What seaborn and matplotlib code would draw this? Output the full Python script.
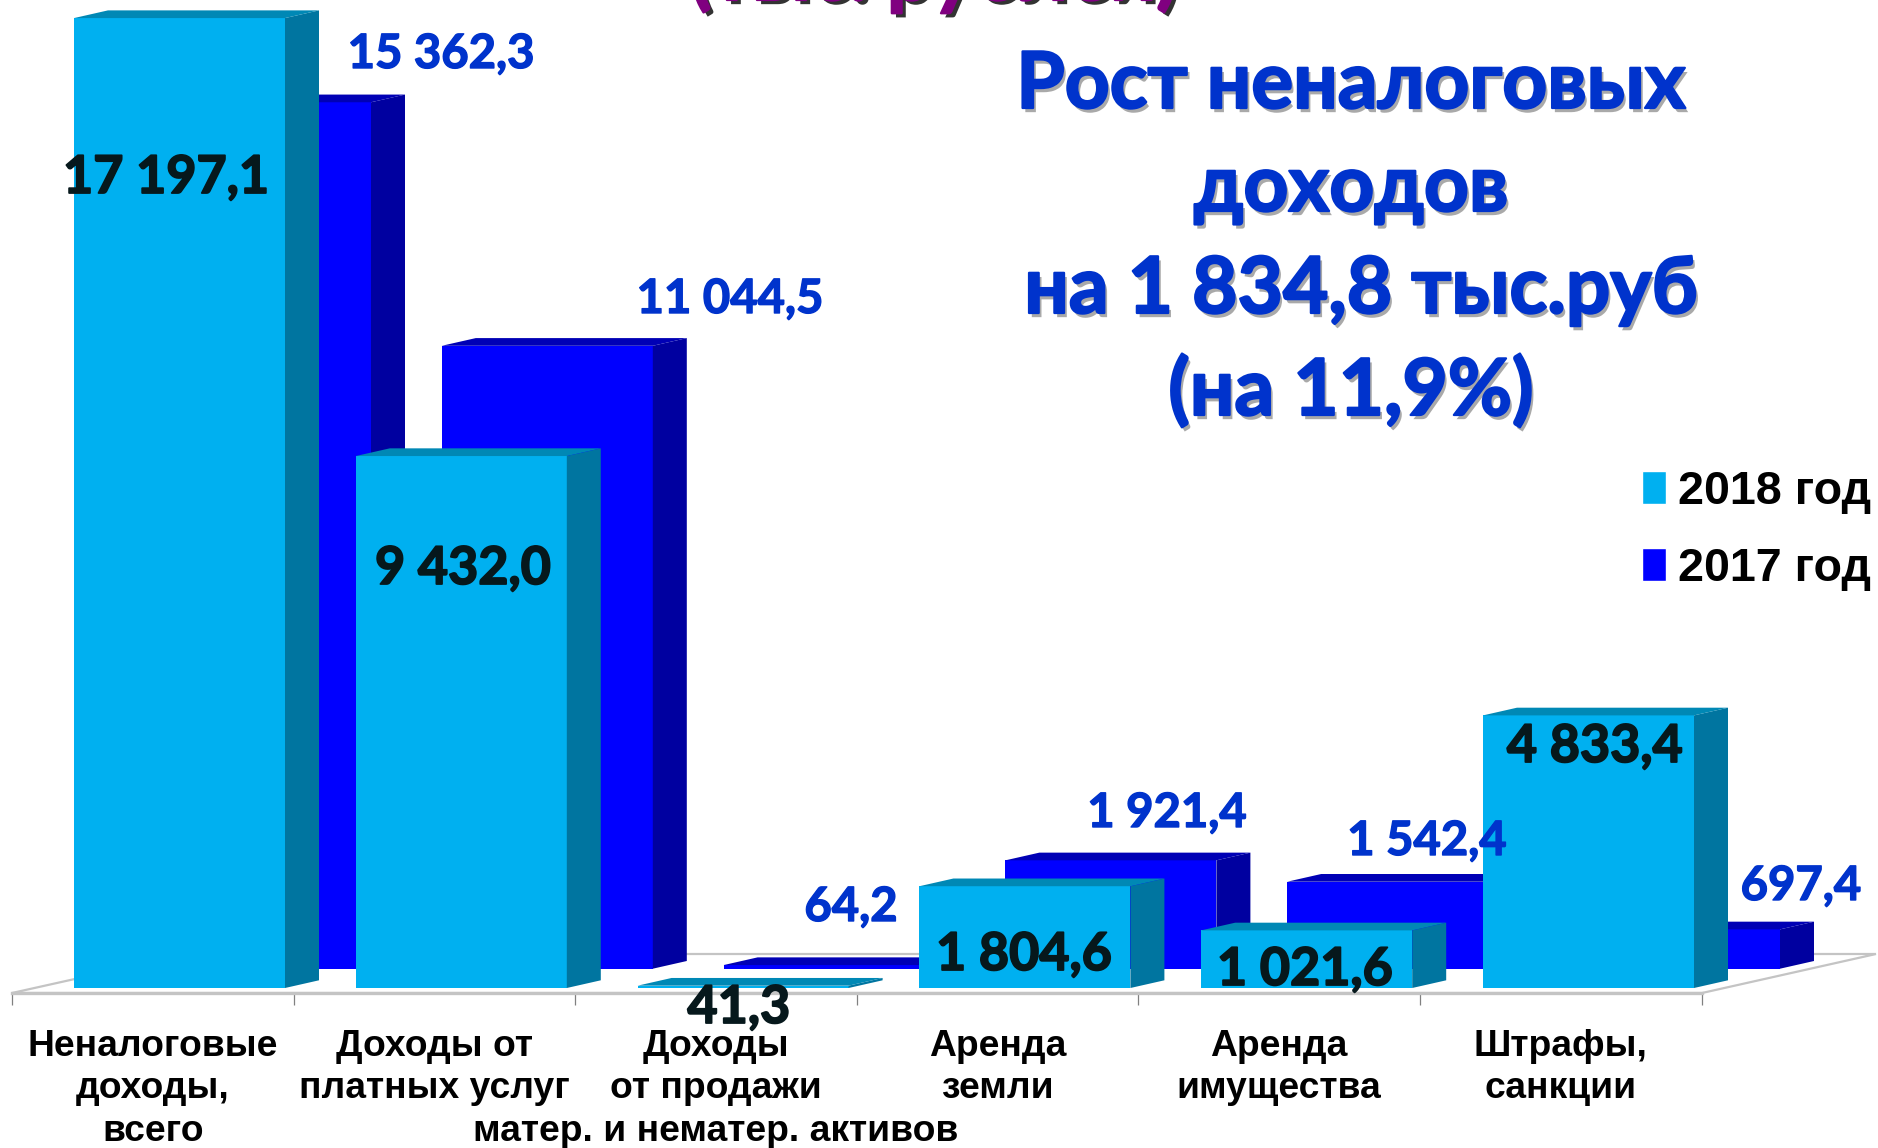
import matplotlib
matplotlib.use("Agg")
import matplotlib.pyplot as plt
import matplotlib.patheffects as pe
from matplotlib.patches import Polygon, Patch
import pandas as pd
import seaborn as sns

categories = ["Неналоговые\nдоходы,\nвсего", "Доходы от\nплатных услуг",
              "Доходы\nот продажи\nматер. и нематер. активов",
              "Аренда\nземли", "Аренда\nимущества", "Штрафы,\nсанкции"]
values_2018 = [17197.1, 9432.0, 41.3, 1804.6, 1021.6, 4833.4]
values_2017 = [15362.3, 11044.5, 64.2, 1921.4, 1542.4, 697.4]
title_lines = ["Рост неналоговых", "доходов", "на 1 834,8 тыс.руб", "(на 11,9%)"]
legend_labels = ["2018 год", "2017 год"]
top_text = "(тыс. рублей)"

W, H = 1878, 1148
DPI = 100
SP = 281.8      # px per category
K = 0.0564      # px per value unit
X0_F, Y0_F = 179.5, 988.0
X0_B, Y0_B = 265.5, 968.7
FLOOR_Y = 993.0
DX, DY = 34.0, 7.7

C18, C18S, C18T = "#00B0F0", "#0075A0", "#0088B5"
C17, C17S, C17T = "#0000FF", "#0000A0", "#0000B5"
BLUE_TXT = "#0033CC"

sns.set_theme(style="white")
plt.rcParams["font.family"] = ["Lato", "Open Sans", "DejaVu Sans"]
LAB = ["Liberation Sans", "DejaVu Sans"]

fig = plt.figure(figsize=(W / DPI, H / DPI), dpi=DPI, facecolor="white")
rect = [0, (H - FLOOR_Y) / H, 1, FLOOR_Y / H]
ax_b = fig.add_axes(rect, zorder=1)
ax_f = fig.add_axes(rect, zorder=2)


def setup(ax, x0, y0):
    ax.set_xlim(-x0 / SP, (W - x0) / SP)
    ax.set_ylim((y0 - FLOOR_Y) / K, y0 / K)
    ax.patch.set_visible(False)


def draw_series(ax, vals, c, cs, ct, x0, y0, name):
    df = pd.DataFrame({"cat": categories, name: vals})
    sns.barplot(data=df, x="cat", y=name, color=c, saturation=1, width=211 / SP,
                ax=ax, order=categories, errorbar=None, zorder=3, linewidth=0, edgecolor="none")
    setup(ax, x0, y0)
    dx, dy = DX / SP, DY / K
    for bar in list(ax.patches):
        l, w, h = bar.get_x(), bar.get_width(), bar.get_height()
        r = l + w
        ax.add_patch(Polygon([(r, 0), (r + dx, dy), (r + dx, h + dy), (r, h)],
                             fc=cs, ec="none", zorder=3))
        ax.add_patch(Polygon([(l, h), (l + dx, h + dy), (r + dx, h + dy), (r, h)],
                             fc=ct, ec="none", zorder=3))
    ax.set_xlabel("")
    ax.set_ylabel("")
    ax.set_yticks([])


draw_series(ax_b, values_2017, C17, C17S, C17T, X0_B, Y0_B, "2017")
draw_series(ax_f, values_2018, C18, C18S, C18T, X0_F, Y0_F, "2018")

# floor
fx = lambda p: (p - X0_B) / SP
fy = lambda p: (Y0_B - p) / K
ax_b.add_patch(Polygon([(fx(12), fy(993)), (fx(1702), fy(993)), (fx(1876), fy(954)), (fx(187), fy(954))],
                       fc="white", ec="#c4c4c4", lw=1.6, zorder=0, clip_on=False))
ax_b.set_xticks([])
for s in ax_b.spines.values():
    s.set_visible(False)

# axis of the front plane
for k, s in ax_f.spines.items():
    s.set_visible(k == "bottom")
ax_f.spines["bottom"].set_color("#c4c4c4")
ax_f.spines["bottom"].set_linewidth(2.4)
x_left = (12 - X0_F) / SP
ax_f.spines["bottom"].set_bounds(x_left, x_left + 6 * 281.6 / SP)
ax_f.set_xticks([x_left + (i + 0.5) * 281.6 / SP for i in range(6)], categories)
ax_f.set_xticks([x_left + i * 281.6 / SP for i in range(7)], minor=True)
ax_f.tick_params(axis="x", which="major", length=0, pad=26, bottom=True)
ax_f.tick_params(axis="x", which="minor", length=8.6, width=0.9, color="#808080", bottom=True)
for t in ax_f.get_xticklabels():
    t.set_fontfamily(LAB)
    t.set_fontweight("bold")
    t.set_fontsize(26.8)
    t.set_color("black")
    t.set_linespacing(1.27)
    t.set_ha("center")
    t.set_va("top")


def fmt(v):
    return f"{v:,.1f}".replace(",", " ").replace(".", ",")


def put(x, y, s, **kw):
    return fig.text(x / W, 1 - y / H, s, ha="center", va="baseline", zorder=10, **kw)


def heavy(color, w=1.3):
    return [pe.withStroke(linewidth=w, foreground=color)]


pos_2018 = [(166, 193), (463, 584), (739, 1023), (1024, 970), (1305, 985), (1595, 762)]
pos_2017 = [(441, 68), (730, 313), (851, 921), (1167, 827), (1427, 855), (1801, 900)]
for v, (x, y) in zip(values_2018, pos_2018):
    t = put(x, y, fmt(v), fontsize=37.5, fontweight="bold", color="#06181c")
    t.set_path_effects(heavy("#06181c"))
for v, (x, y) in zip(values_2017, pos_2017):
    t = put(x, y, fmt(v), fontsize=34, fontweight="bold", color=BLUE_TXT)
    t.set_path_effects(heavy(BLUE_TXT, 1.0))

title_pos = [(1351, 108), (1351, 211), (1361, 313), (1351, 415)]
for line, (x, y) in zip(title_lines, title_pos):
    t = put(x, y, line, fontsize=56.4, fontweight="bold", color=BLUE_TXT)
    t.set_path_effects([pe.withSimplePatchShadow(offset=(2, -3), shadow_rgbFace="#555555", alpha=0.5),
                        pe.withStroke(linewidth=1.6, foreground=BLUE_TXT)])

t = put(934, 0, top_text, fontsize=57, fontweight="bold", color="#800080")
t.set_path_effects([pe.withSimplePatchShadow(offset=(3, -3), shadow_rgbFace="#000000", alpha=0.8),
                    pe.withStroke(linewidth=1.6, foreground="#800080")])

handles = [Patch(fc=C18, label=legend_labels[0]), Patch(fc=C17, label=legend_labels[1])]
fig.legend(handles=handles, loc="upper left", bbox_to_anchor=(1642 / W, 1 - 470 / H), frameon=False,
           prop={"family": LAB, "weight": "bold", "size": 33.6}, handlelength=0.52, handleheight=0.72,
           handletextpad=0.26, labelspacing=0.70, borderpad=0, borderaxespad=0, labelcolor="black")

fig.savefig("out.png", dpi=DPI, facecolor="white")
